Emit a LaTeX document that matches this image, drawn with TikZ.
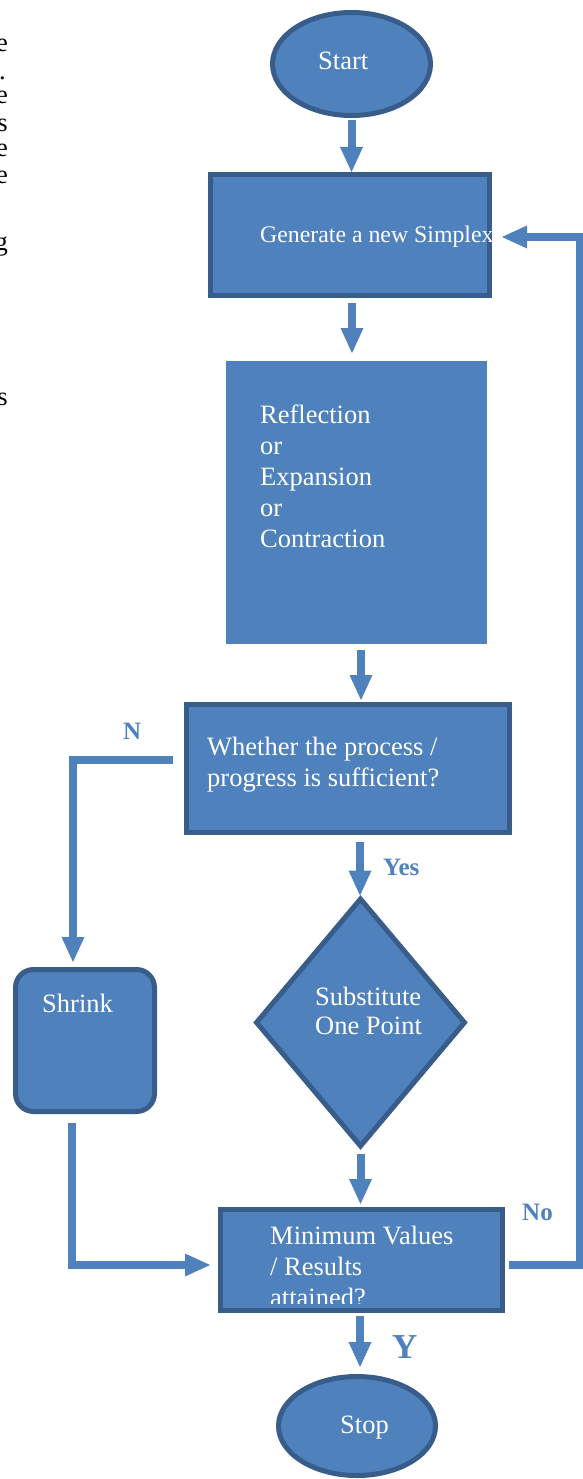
\documentclass[tikz,border=0pt]{standalone}
\usepackage{fontspec}
\setmainfont{Liberation Serif}
\usetikzlibrary{arrows.meta,shapes.geometric}
\definecolor{boxblue}{HTML}{4F81BD}
\definecolor{edgeblue}{HTML}{385D8A}

\begin{document}
\begin{tikzpicture}[x=1pt,y=-1pt]
		\tikzset{
  block/.style={
         rectangle,
         fill=boxblue,
         draw=edgeblue, line width=5pt,
         inner sep=0,
         },
  term/.style={
         ellipse,
         fill=boxblue,
         draw=edgeblue, line width=5pt,
         inner sep=0,
         },
  txt/.style={
         text=white,
         inner sep=0,
         align=left,
         anchor=base west,
         font=\fontsize{26.5}{31}\selectfont,
         },
  side/.style={
         inner sep=0,
         anchor=base east,
         font=\fontsize{26.5}{31}\selectfont,
         },
  answer/.style={
         text=boxblue,
         inner sep=0,
         anchor=base west,
         font=\bfseries\fontsize{25}{29}\selectfont,
         },
  flow/.style={
         draw=boxblue, line width=8pt,
         -{Triangle[width=23pt,length=25pt,line width=0pt]},
         },
}
    \useasboundingbox (0,0) rectangle (582,1479);

    \node[side] (m1) at (8,52) {e};
    \node[side] (m2) at (6,80) {.};
    \node[side] (m3) at (8,104) {e};
    \node[side] (m4) at (8,132) {s};
    \node[side] (m5) at (8,157) {e};
    \node[side] (m6) at (8,184) {e};
    \node[side] (m7) at (8,251) {g};
    \node[side] (m8) at (8,405) {s};

    \node[term,
      minimum width=158pt,
      minimum height=103pt] (start) at (351.5,64) {};
    \node[txt] (start-t) at (318,70) {Start};

    \node[block,
      minimum width=279pt,
      minimum height=121pt] (generate) at (350,235) {};
    \node[txt, font=\fontsize{23.8}{28}\selectfont] (generate-t) at (260,243)
      {Generate a new Simplex};

    \node[rectangle,
      fill=boxblue,
      outer sep=0,
      minimum width=261pt,
      minimum height=283pt] (moves) at (356.5,502.5) {};
    \node[txt] (moves-t) at (260,547)
    {
      Reflection\\
      or\\
      Expansion\\
      or\\
      Contraction
    };

    \node[block,
      minimum width=323pt,
      minimum height=128pt] (progress) at (348,768.5) {};
    \node[txt] (progress-t) at (207,786)
    {
      Whether the process /\\
      progress is sufficient?
    };

    \node[block,
      rounded corners=18pt,
      minimum width=139pt,
      minimum height=142pt] (shrink) at (85,1040.5) {};
    \node[txt] (shrink-t) at (42,1012) {Shrink};

    \node[block,
      diamond,
      minimum width=210pt,
      minimum height=249pt] (substitute) at (360.5,1022.5) {};
    \node[txt, font=\fontsize{26.5}{29.5}\selectfont] (substitute-t) at (315,1034.5)
    {
      Substitute\\
      One Point
    };

    \node[block,
      minimum width=282pt,
      minimum height=101pt] (minimum) at (361.5,1260) {};
    \begin{scope}
      \clip ([xshift=-10pt]minimum.north west) rectangle ([yshift=10pt]minimum.south east);
      \node[txt] (minimum-t) at (270,1306)
      {
        Minimum Values\\
        / Results\\
        attained?
      };
    \end{scope}

    \node[term,
      minimum width=157pt,
      minimum height=99pt] (stop) at (357,1426) {};
    \node[txt] (stop-t) at (340,1433) {Stop};

    \draw[flow] ([yshift=-2pt]start.south) -- (start.south |- generate.north);
    \draw[flow] ([xshift=2pt,yshift=-5pt]generate.south)
      -- ([xshift=2pt,yshift=8pt]generate.south |- moves.north);
    \draw[flow] ([xshift=4.5pt,yshift=-6pt]moves.south)
      -- ([xshift=4.5pt,yshift=2pt]moves.south |- progress.north);
    \draw[flow] ([xshift=12pt,yshift=-7pt]progress.south)
      -- ([xshift=12pt]progress.south |- substitute.north);
    \draw[flow] ([yshift=-4pt]substitute.south)
      -- ([yshift=3pt]substitute.south |- minimum.north);
    \draw[flow] ([xshift=-1.5pt,yshift=-3pt]minimum.south)
      -- ([xshift=-1.5pt,yshift=7pt]minimum.south |- stop.north);

    \draw[flow] ([xshift=-11pt,yshift=8.5pt]progress.west)
      -| ([xshift=-12pt,yshift=5pt]shrink.north);
    \draw[flow] ([xshift=-13pt,yshift=-9pt]shrink.south)
      |- ([xshift=-8pt,yshift=-5pt]minimum.west);
    \draw[flow] ([xshift=4pt,yshift=-5pt]minimum.east)
      -| ([xshift=88pt,yshift=-2pt]generate.east)
      -- ([xshift=10pt,yshift=-2pt]generate.east);

    \node[answer] (no-n) at (123,739) {N};
    \node[answer] (yes) at (383,875) {Yes};
    \node[answer] (no) at (522,1220) {No};
    \node[answer, font=\bfseries\fontsize{35}{40}\selectfont] (yes-y) at (392,1358) {Y};

	\end{tikzpicture}
\end{document}
